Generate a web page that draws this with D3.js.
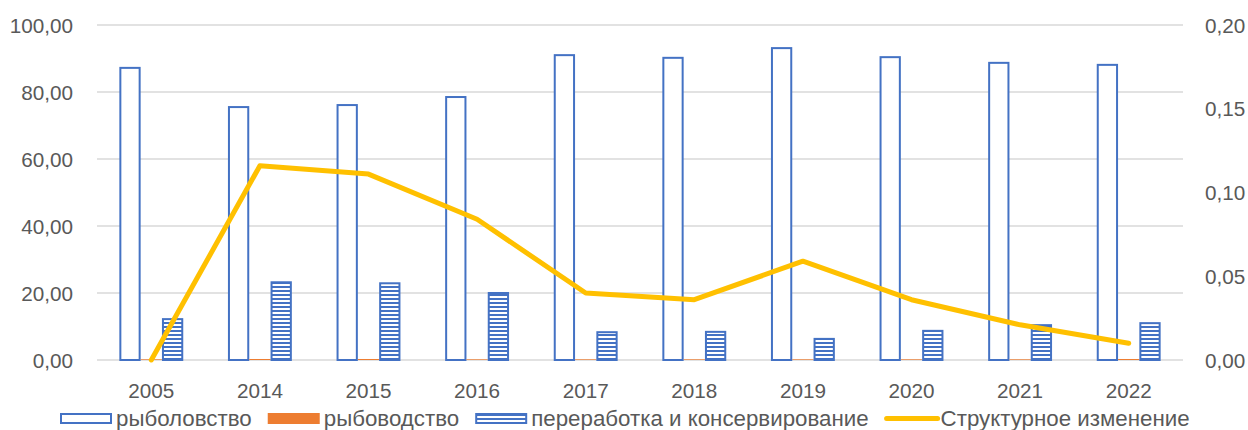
<!DOCTYPE html>
<html>
<head>
<meta charset="utf-8">
<script src="https://cdn.jsdelivr.net/npm/d3@7"></script>
<style>
  body { margin: 0; background: #fff; }
  text { font-family: "Liberation Sans", Arial, sans-serif; fill: #595959; }
</style>
</head>
<body>
<svg id="chart" width="1248" height="430"></svg>
<script>

// chart data
var years = ["2005", "2014", "2015", "2016", "2017", "2018", "2019", "2020", "2021", "2022"];
var fishing = [87.5, 75.8, 76.4, 78.8, 91.3, 90.5, 93.4, 90.7, 89.0, 88.4];
var farming = [0.2, 0.3, 0.3, 0.2, 0.2, 0.2, 0.2, 0.2, 0.2, 0.3];
var processing = [12.5, 23.5, 23.2, 20.3, 8.6, 8.7, 6.6, 9.0, 10.7, 11.3];
var change = [0.000, 0.116, 0.111, 0.084, 0.040, 0.036, 0.059, 0.036, 0.021, 0.010];
var leftTicks = [0, 20, 40, 60, 80, 100];
var rightTicks = [0, 0.05, 0.10, 0.15, 0.20];
var seriesNames = ["рыболовство", "рыбоводство", "переработка и консервирование", "Структурное изменение"];

var BLUE = "#4472C4", ORANGE = "#ED7D31", GOLD = "#FFC000", GRID = "#d9d9d9";
var AXIS_FONT = "20.7px", LEGEND_FONT = "22.3px";

var svg = d3.select("#chart");
var plotLeft = 97, plotRight = 1183, plotTop = 25, plotBottom = 360;

var fmt = function(v, n) { return v.toFixed(n).replace(".", ","); };

var x = d3.scaleBand().domain(years).range([plotLeft, plotRight]);
var y = d3.scaleLinear().domain([0, 100]).range([plotBottom, plotTop]);
var y2 = d3.scaleLinear().domain([0, 0.2]).range([plotBottom, plotTop]);

// hatch pattern for processing bars
var defs = svg.append("defs");
var pat = defs.append("pattern")
	.attr("id", "hatch")
	.attr("patternUnits", "userSpaceOnUse")
	.attr("width", 8).attr("height", 4);
pat.append("rect").attr("width", 8).attr("height", 4).attr("fill", "#fff");
pat.append("rect").attr("y", 2).attr("width", 8).attr("height", 2).attr("fill", BLUE);

// gridlines
svg.append("g").selectAll("line")
	.data(leftTicks)
	.enter().append("line")
	.attr("x1", plotLeft).attr("x2", plotRight)
	.attr("y1", function(d) { return y(d); })
	.attr("y2", function(d) { return y(d); })
	.attr("stroke", GRID).attr("stroke-width", 1.3);

// left axis labels
svg.append("g").selectAll("text")
	.data(leftTicks)
	.enter().append("text")
	.attr("x", 73)
	.attr("y", function(d) { return y(d) + 7.5; })
	.attr("text-anchor", "end")
	.style("font-size", AXIS_FONT)
	.text(function(d) { return fmt(d, 2); });

// right axis labels
svg.append("g").selectAll("text")
	.data(rightTicks)
	.enter().append("text")
	.attr("x", 1205)
	.attr("y", function(d) { return y2(d) + 7.5; })
	.style("font-size", AXIS_FONT)
	.text(function(d) { return fmt(d, 2); });

// category labels
svg.append("g").selectAll("text")
	.data(years)
	.enter().append("text")
	.attr("x", function(d) { return x(d) + x.bandwidth() / 2; })
	.attr("y", 398)
	.attr("text-anchor", "middle")
	.style("font-size", AXIS_FONT)
	.text(function(d) { return d; });

// bars
var bw = 21.3;
var inner = d3.scaleBand().domain([0, 1, 2]).range([-1.5 * bw, 1.5 * bw]);

function drawBars(values, idx, fill, stroke, sw) {
	var s = stroke ? sw : 0;
	svg.append("g").selectAll("rect")
		.data(values)
		.enter().append("rect")
		.attr("x", function(d, i) { return x(years[i]) + x.bandwidth() / 2 + inner(idx) + s / 2; })
		.attr("y", function(d) { return y(d) + s / 2; })
		.attr("width", bw - s)
		.attr("height", function(d) { return Math.max(0, plotBottom - y(d) - s / 2); })
		.attr("fill", fill)
		.attr("stroke", stroke || "none")
		.attr("stroke-width", s);
}

drawBars(fishing, 0, "#fff", BLUE, 2);
drawBars(farming, 1, ORANGE);
drawBars(processing, 2, "url(#hatch)", BLUE, 2);

// line on right axis
var line = d3.line()
	.x(function(d, i) { return x(years[i]) + x.bandwidth() / 2; })
	.y(function(d) { return y2(d); });

svg.append("path")
	.datum(change)
	.attr("d", line)
	.attr("fill", "none")
	.attr("stroke", GOLD)
	.attr("stroke-width", 5)
	.attr("stroke-linecap", "round")
	.attr("stroke-linejoin", "round");

// legend
var legend = svg.append("g");
var lx = 60, ly = 413;
seriesNames.forEach(function(name, i) {
	if (i == 3) {
		legend.append("line")
			.attr("x1", lx + 2).attr("x2", lx + 53)
			.attr("y1", ly + 5.5).attr("y2", ly + 5.5)
			.attr("stroke", GOLD).attr("stroke-width", 5)
			.attr("stroke-linecap", "round");
	} else {
		var f = i == 0 ? "#fff" : (i == 1 ? ORANGE : "url(#hatch)");
		legend.append("rect")
			.attr("x", lx + (i == 1 ? 0 : 1)).attr("y", ly + (i == 1 ? 0 : 1))
			.attr("width", i == 1 ? 52 : 50).attr("height", i == 1 ? 11 : 9)
			.attr("fill", f)
			.attr("stroke", i == 1 ? "none" : BLUE)
			.attr("stroke-width", 2);
	}
	var t = legend.append("text")
		.attr("x", lx + 56)
		.attr("y", ly + 13)
		.style("font-size", LEGEND_FONT)
		.text(name);
	lx += 56 + t.node().getComputedTextLength() + 16;
});

</script>
</body>
</html>
